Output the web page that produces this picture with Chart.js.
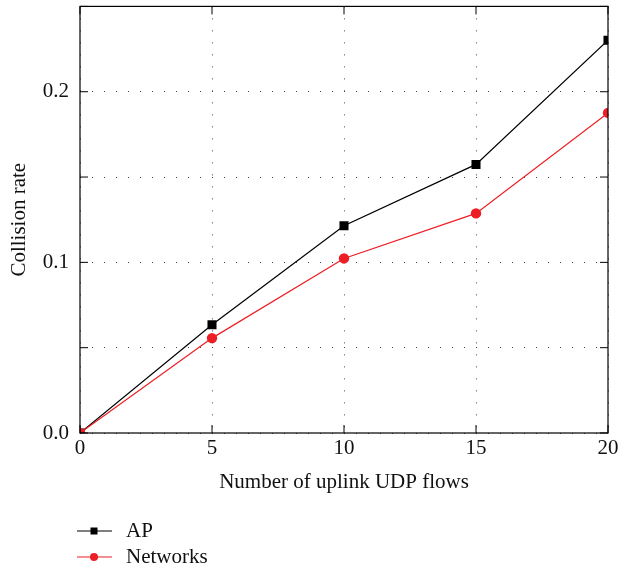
<!DOCTYPE html>
<html>
<head>
<meta charset="utf-8">
<script src="https://cdn.jsdelivr.net/npm/chart.js@4.4.1/dist/chart.umd.min.js"></script>
<style>
  html, body { margin: 0; padding: 0; background: #fff; }
  #wrap { width: 632px; height: 569px; position: relative; }
</style>
</head>
<body>
<div id="wrap"><canvas id="myChart"></canvas></div>
<script>
// data
const flows = [0, 5, 10, 15, 20];
const apRate = [0, 0.0634, 0.1215, 0.1574, 0.2302];
const netRate = [0, 0.0556, 0.1023, 0.1287, 0.1876];
const xTicks = [0, 5, 10, 15, 20];
const yTickLabels = ['0.0', '0.1', '0.2'];

const serif = '"Liberation Serif", "DejaVu Serif", serif';
const RED = '#ec1f26';
const FS = 21;

// frame + inward ticks, like the original plot
const framePlugin = {
    id: 'frame',
    afterDatasetsDraw(chart) {
        const { ctx, chartArea: a, scales } = chart;
        ctx.save();
        ctx.strokeStyle = '#000';
        ctx.lineWidth = 1.2;
        ctx.strokeRect(a.left, a.top, a.right - a.left, a.bottom - a.top);
        ctx.lineWidth = 1;
        ctx.beginPath();
        xTicks.forEach(v => {
            const x = scales.x.getPixelForValue(v);
            ctx.moveTo(x, a.bottom); ctx.lineTo(x, a.bottom - 8);
            ctx.moveTo(x, a.top); ctx.lineTo(x, a.top + 8);
        });
        scales.y.ticks.forEach(t => {
            const y = scales.y.getPixelForValue(t.value);
            ctx.moveTo(a.left, y); ctx.lineTo(a.left + 8, y);
            ctx.moveTo(a.right, y); ctx.lineTo(a.right - 8, y);
        });
        ctx.stroke();
        ctx.restore();
    },
    afterDraw(chart) {
        // legend under the axes, one row per dataset
        const { ctx } = chart;
        const rows = [531, 557];
        ctx.save();
        chart.data.datasets.forEach((ds, i) => {
            const y = rows[i];
            ctx.strokeStyle = ds.borderColor;
            ctx.lineWidth = 1.2;
            ctx.beginPath();
            ctx.moveTo(77, y); ctx.lineTo(112, y);
            ctx.stroke();
            ctx.fillStyle = ds.pointBackgroundColor;
            ctx.beginPath();
            if (ds.pointStyle === 'rect') {
                ctx.rect(94 - 3.5, y - 3.5, 7, 7);
            } else {
                ctx.arc(94, y, 4, 0, Math.PI * 2);
            }
            ctx.fill();
            ctx.fillStyle = '#111';
            ctx.font = FS + 'px ' + serif;
            ctx.textBaseline = 'middle';
            ctx.fillText(ds.label, 126, y);
        });
        ctx.restore();
    }
};

document.addEventListener('DOMContentLoaded', function() {
    const ctx = document.getElementById('myChart').getContext('2d');
    new Chart(ctx, {
        type: 'line',
        data: {
            labels: flows,
            datasets: [{
                label: 'AP',
                data: flows.map((f, i) => ({ x: f, y: apRate[i] })),
                borderColor: '#000',
                backgroundColor: '#000',
                pointBackgroundColor: '#000',
                pointBorderWidth: 0,
                borderWidth: 1.2,
                pointStyle: 'rect',
                pointRadius: 6.4,
                order: 1,
                clip: 0
            }, {
                label: 'Networks',
                data: flows.map((f, i) => ({ x: f, y: netRate[i] })),
                borderColor: RED,
                backgroundColor: RED,
                pointBackgroundColor: RED,
                pointBorderWidth: 0,
                borderWidth: 1.2,
                pointStyle: 'circle',
                pointRadius: 5.2,
                order: 0,
                clip: 0
            }]
        },
        options: {
            responsive: true,
            maintainAspectRatio: false,
            animation: false,
            layout: { padding: { top: 3, right: 24, bottom: 69, left: 0 } },
            plugins: { legend: { display: false }, tooltip: { enabled: false } },
            scales: {
                x: {
                    type: 'linear',
                    min: 0, max: 20,
                    afterBuildTicks: s => { s.ticks = xTicks.map(v => ({ value: v })); },
                    afterFit: s => { s.height = 67; s.paddingLeft = 0; s.paddingRight = 0; },
                    grid: { color: '#444', lineWidth: 1, drawTicks: false },
                    border: { display: false, dash: [1, 11] },
                    ticks: {
                        color: '#111', padding: 3,
                        font: { family: serif, size: FS }
                    },
                    title: {
                        display: true, text: 'Number of uplink UDP flows',
                        color: '#111', font: { family: serif, size: FS },
                        padding: { top: 0, bottom: 5 }
                    }
                },
                y: {
                    min: 0, max: 0.25,
                    afterFit: s => { s.width = 80; s.paddingTop = 0; s.paddingBottom = 0; },
                    grid: { color: '#444', lineWidth: 1, drawTicks: false },
                    border: { display: false, dash: [1, 11] },
                    ticks: {
                        stepSize: 0.05, color: '#111', padding: 11,
                        font: { family: serif, size: FS },
                        callback: function(v) {
                            const k = Math.round(v * 100);
                            return k % 10 === 0 ? yTickLabels[k / 10] : '';
                        }
                    },
                    title: {
                        display: true, text: 'Collision rate',
                        color: '#111', font: { family: serif, size: FS },
                        padding: { top: 7, bottom: 0 }
                    }
                }
            }
        },
        plugins: [framePlugin]
    });
});
</script>
</body>
</html>
